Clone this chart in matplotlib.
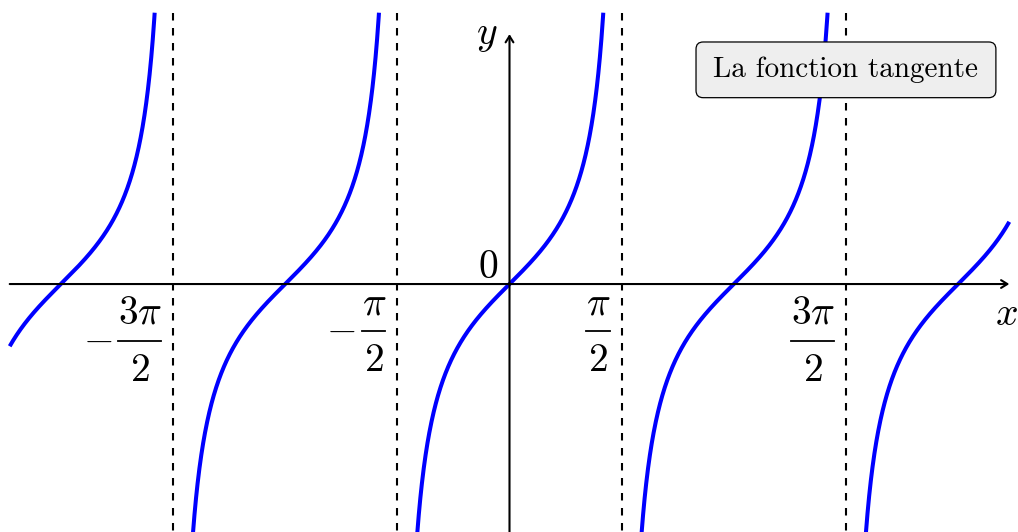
import numpy as np
import matplotlib
matplotlib.use("Agg")
import matplotlib.pyplot as plt
from matplotlib.patches import FancyBboxPatch
from matplotlib.transforms import IdentityTransform
from matplotlib.textpath import TextPath
from matplotlib.lines import Line2D

plt.rcParams["mathtext.fontset"] = "cm"

# Domain of the plotted function and vertical clipping window
x_domain = [-7.0, 7.0]
y_window = [-3.5, 3.8]

# Vertical asymptotes x = (2k+1)·π/2 inside the domain, with their labels
asymptotes = [-3 * np.pi / 2, -np.pi / 2, np.pi / 2, 3 * np.pi / 2]
label_signs = ["-", "-", "", ""]
label_numerators = [r"$3\pi$", r"$\pi$", r"$\pi$", r"$3\pi$"]
label_denominators = [r"$2$", r"$2$", r"$2$", r"$2$"]

title_text = "La fonction tangente"
title_anchor = (3 * np.pi / 2, 3.0)

DPI = 100
FS = 28.5                 # math font size (pt)
EM = FS * DPI / 72        # one em in pixels

fig = plt.figure(figsize=(10.18, 5.32), dpi=DPI)
ax = fig.add_axes([0, 0, 1, 1])
ax.set_xlim(-7.136, 7.122)
ax.set_ylim(-3.473, 3.978)
ax.axis("off")
PIX = IdentityTransform()


def ink(s):
    """Ink extents (x0, y0, x1, y1) of a math string, in pixels from its origin."""
    e = TextPath((0, 0), s, size=EM).get_extents()
    return e.x0, e.y0, e.x1, e.y1


def put(s, x_ink_left, y_base):
    """Draw a math string with its ink starting at x_ink_left, baseline at y_base."""
    x0 = ink(s)[0]
    ax.text(x_ink_left - x0, y_base, s, fontsize=FS, ha="left", va="baseline",
            transform=PIX)


# Axes with arrow heads
arrow = dict(arrowstyle="->,head_length=0.45,head_width=0.28", lw=1.5,
             color="black", shrinkA=0, shrinkB=0)
ax.annotate("", xy=(x_domain[1], 0), xytext=(x_domain[0], 0), arrowprops=arrow)
ax.annotate("", xy=(0, 3.5), xytext=(0, -3.6), arrowprops=arrow)

# Dashed asymptotes
for a in asymptotes:
    ax.plot([a, a], [y_window[1], y_window[0]], color="black", lw=1.5,
            dashes=(3.6, 3.6), dash_capstyle="butt")

# One branch of tan per period, cut at the clipping window
k_min = int(np.floor((x_domain[0] + np.pi / 2) / np.pi))
k_max = int(np.ceil((x_domain[1] - np.pi / 2) / np.pi))
for k in range(k_min, k_max + 1):
    lo = max(x_domain[0], k * np.pi + np.arctan(y_window[0]))
    hi = min(x_domain[1], k * np.pi + np.arctan(y_window[1]))
    if hi <= lo:
        continue
    xs = np.linspace(lo, hi, 600)
    ax.plot(xs, np.tan(xs), color="#0000ff", lw=2.9, solid_capstyle="butt")

# Fraction labels placed below left of each asymptote foot (display pixels)
for a, sign, num, den in zip(asymptotes, label_signs, label_numerators,
                             label_denominators):
    px, py = ax.transData.transform((a, 0))
    nx0, ny0, nx1, ny1 = ink(num)
    dx0, dy0, dx1, dy1 = ink(den)
    bar_w = max(nx1 - nx0, dx1 - dx0) + 2
    bar_r = px - 12
    bar_l = bar_r - bar_w
    bar_c = (bar_l + bar_r) / 2
    num_top = py - 13
    num_base = num_top - ny1
    bar_y = num_base - 17
    den_base = bar_y - 40
    put(num, bar_c - (nx1 - nx0) / 2, num_base)
    put(den, bar_c - (dx1 - dx0) / 2, den_base)
    ax.add_line(Line2D([bar_l, bar_r], [bar_y, bar_y], color="black", lw=1.3,
                       transform=PIX))
    if sign:
        mx0, my0, mx1, my1 = ink(r"$-$")
        put(r"$-$", bar_l - 8 - (mx1 - mx0), bar_y - (my0 + my1) / 2)

ax.text(0, 0, "$0$", fontsize=FS, ha="right", va="baseline",
        transform=ax.transData + matplotlib.transforms.Affine2D().translate(-11, 6))
ax.text(0, 3.5, "$y$", fontsize=FS, ha="right", va="center",
        transform=ax.transData + matplotlib.transforms.Affine2D().translate(-12, 0))
ax.text(x_domain[1], 0, "$x$", fontsize=FS, ha="center", va="top",
        transform=ax.transData + matplotlib.transforms.Affine2D().translate(-3, -10))

# Rounded title box centred on the anchor node
bw, bh = 4.2, 0.78
box = FancyBboxPatch((title_anchor[0] - bw / 2, title_anchor[1] - bh / 2), bw, bh,
                     boxstyle="round,pad=0,rounding_size=0.1",
                     fc="#eeeeee", ec="black", lw=0.9, zorder=5)
ax.add_patch(box)
ax.text(title_anchor[0], title_anchor[1], title_text, family="cmr10",
        fontsize=21, ha="center", va="center", zorder=6)

fig.savefig("out.png", dpi=DPI)
